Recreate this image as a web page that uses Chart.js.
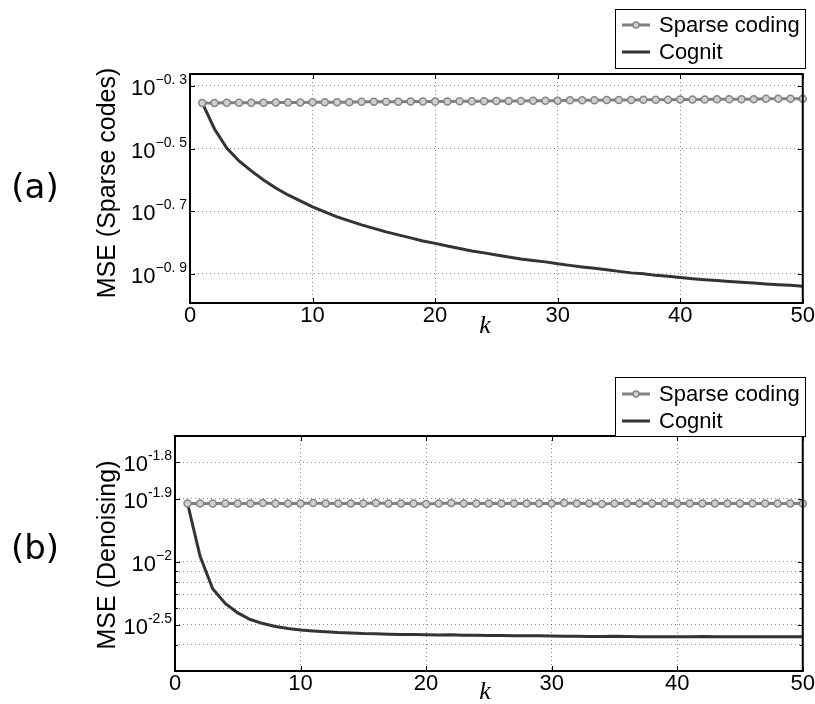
<!DOCTYPE html>
<html>
<head>
<meta charset="utf-8">
<script src="https://cdn.jsdelivr.net/npm/chart.js@4.4.1/dist/chart.umd.min.js"></script>
<style>
  html, body { margin: 0; padding: 0; background: #fff; }
  #wrap { position: relative; width: 815px; height: 704px; }
  .panel { position: absolute; left: 0; width: 815px; }
  #panelA { top: 0; height: 340px; }
  #panelB { top: 340px; height: 364px; }
</style>
</head>
<body>
<div id="wrap">
  <div class="panel" id="panelA"><canvas id="chartA" width="815" height="340"></canvas></div>
  <div class="panel" id="panelB"><canvas id="chartB" width="815" height="364"></canvas></div>
</div>
<script>
// iteration k
var kValues = [1, 2, 3, 4, 5, 6, 7, 8, 9, 10, 11, 12, 13, 14, 15, 16, 17, 18, 19, 20,
    21, 22, 23, 24, 25, 26, 27, 28, 29, 30, 31, 32, 33, 34, 35, 36, 37, 38, 39, 40,
    41, 42, 43, 44, 45, 46, 47, 48, 49, 50];

// (a) MSE sparse codes
var sparseCodesA = [0.442, 0.442, 0.443, 0.443, 0.443, 0.443, 0.444, 0.444, 0.444, 0.445,
    0.445, 0.445, 0.445, 0.446, 0.446, 0.446, 0.446, 0.447, 0.447, 0.447,
    0.447, 0.448, 0.448, 0.448, 0.449, 0.449, 0.449, 0.450, 0.450, 0.450,
    0.451, 0.451, 0.451, 0.452, 0.452, 0.452, 0.453, 0.453, 0.453, 0.454,
    0.454, 0.454, 0.455, 0.455, 0.455, 0.455, 0.456, 0.456, 0.456, 0.456];
var cognitA = [0.4424, 0.3654, 0.3178, 0.2889, 0.2685, 0.2513, 0.2369, 0.2250, 0.2154, 0.2061,
    0.1987, 0.1915, 0.1859, 0.1805, 0.1760, 0.1715, 0.1678, 0.1641, 0.1605, 0.1576,
    0.1547, 0.1519, 0.1491, 0.1470, 0.1448, 0.1427, 0.1406, 0.1391, 0.1376, 0.1356,
    0.1341, 0.1326, 0.1312, 0.1298, 0.1283, 0.1269, 0.1260, 0.1246, 0.1237, 0.1226,
    0.1216, 0.1207, 0.1199, 0.1191, 0.1184, 0.1177, 0.1170, 0.1164, 0.1158, 0.1151];

// (b) MSE denoising
var sparseCodesB = [0.0190, 0.0190, 0.0190, 0.0190, 0.0190, 0.0190, 0.0191, 0.0190, 0.0190, 0.0190,
    0.0191, 0.0190, 0.0190, 0.0190, 0.0190, 0.0191, 0.0190, 0.0190, 0.0190, 0.0189,
    0.0190, 0.0191, 0.0190, 0.0190, 0.0190, 0.0190, 0.0190, 0.0190, 0.0190, 0.0190,
    0.0191, 0.0190, 0.0190, 0.0189, 0.0190, 0.0190, 0.0190, 0.0190, 0.0190, 0.0190,
    0.0190, 0.0190, 0.0190, 0.0190, 0.0190, 0.0190, 0.0190, 0.0190, 0.0190, 0.0190];
var cognitB = [0.01901, 0.01061, 0.00743, 0.00632, 0.00569, 0.00529, 0.00506, 0.00490, 0.00479, 0.00471,
    0.00466, 0.00462, 0.00458, 0.00456, 0.00453, 0.00452, 0.00450, 0.00449, 0.00448, 0.00447,
    0.00446, 0.00447, 0.00445, 0.00445, 0.00444, 0.00444, 0.00443, 0.00442, 0.00442, 0.00441,
    0.00440, 0.00440, 0.00439, 0.00439, 0.00440, 0.00439, 0.00438, 0.00438, 0.00438, 0.00438,
    0.00438, 0.00439, 0.00438, 0.00437, 0.00438, 0.00437, 0.00437, 0.00438, 0.00437, 0.00437];

// y tick positions and the (odd) labels printed next to them
var tickValuesA = [0.5012, 0.3162, 0.1995, 0.1259];
var tickLabelsA = ['\u22120. 3', '\u22120. 5', '\u22120. 7', '\u22120. 9'];
var tickValuesB = [0.03, 0.02, 0.01, 0.009, 0.008, 0.007, 0.006, 0.005, 0.004];
var tickLabelsB = ['-1.8', '-1.9', '\u22122', '', '', '', '', '-2.5', ''];

var xTicks = [0, 10, 20, 30, 40, 50];

function points(values) {
    return kValues.map(function (k, i) { return { x: k, y: values[i] }; });
}

function makeDatasets(sparse, cognit) {
    return [{
        label: 'Sparse coding',
        data: points(sparse),
        borderColor: '#808080',
        borderWidth: 3,
        pointStyle: 'circle',
        pointRadius: 3.5,
        pointBorderWidth: 1.5,
        pointBorderColor: '#858585',
        pointBackgroundColor: '#cfcfcf',
        tension: 0,
        clip: false
    }, {
        label: 'Cognit',
        data: points(cognit),
        borderColor: '#333333',
        borderWidth: 3,
        pointRadius: 0,
        tension: 0,
        clip: false
    }];
}

// frame, inner ticks, y labels with exponents, legend box and titles
var decorPlugin = {
    id: 'decor',
    afterDraw: function (chart, args, opts) {
        var ctx = chart.ctx;
        var area = chart.chartArea;
        var xs = chart.scales.x;
        var ys = chart.scales.y;
        ctx.save();

        // inward tick marks
        ctx.strokeStyle = '#000';
        ctx.lineWidth = 1;
        ys.ticks.forEach(function (t, i) {
            var py = Math.round(ys.getPixelForValue(t.value)) + 0.5;
            var len = opts.yLabels[i] ? 5 : 3;
            ctx.beginPath();
            ctx.moveTo(area.left, py); ctx.lineTo(area.left + len, py);
            ctx.moveTo(area.right, py); ctx.lineTo(area.right - len, py);
            ctx.stroke();
        });
        xTicks.forEach(function (v) {
            var px = Math.round(xs.getPixelForValue(v)) + 0.5;
            ctx.beginPath();
            ctx.moveTo(px, area.bottom); ctx.lineTo(px, area.bottom - 5);
            ctx.moveTo(px, area.top); ctx.lineTo(px, area.top + 5);
            ctx.stroke();
        });

        // frame
        ctx.lineWidth = 2;
        ctx.strokeRect(area.left, area.top, area.right - area.left, area.bottom - area.top);

        // y labels 10^x
        ctx.fillStyle = '#000';
        ys.ticks.forEach(function (t, i) {
            var sup = opts.yLabels[i];
            if (!sup) return;
            var py = ys.getPixelForValue(t.value);
            var right = area.left - 3;
            ctx.font = '14px "Liberation Sans"';
            var w = ctx.measureText(sup).width;
            ctx.textBaseline = 'middle';
            ctx.textAlign = 'left';
            ctx.fillText(sup, right - w, py - 6);
            ctx.font = '22px "Liberation Sans"';
            ctx.textAlign = 'right';
            ctx.fillText('10', right - w, py + 3);
        });

        // legend
        var b = opts.legend;
        ctx.fillStyle = '#fff';
        ctx.fillRect(b.left, b.top, b.right - b.left, b.bottom - b.top);
        ctx.lineWidth = 1;
        ctx.strokeStyle = '#000';
        ctx.strokeRect(b.left + 0.5, b.top + 0.5, b.right - b.left, b.bottom - b.top);
        chart.data.datasets.forEach(function (ds, i) {
            var ry = b.rows[i];
            ctx.strokeStyle = ds.borderColor;
            ctx.lineWidth = ds.borderWidth;
            ctx.beginPath();
            ctx.moveTo(b.left + 7, ry); ctx.lineTo(b.left + 35, ry);
            ctx.stroke();
            if (ds.pointRadius) {
                ctx.beginPath();
                ctx.arc(b.left + 21, ry, ds.pointRadius - 0.5, 0, Math.PI * 2);
                ctx.fillStyle = ds.pointBackgroundColor;
                ctx.fill();
                ctx.lineWidth = ds.pointBorderWidth;
                ctx.strokeStyle = ds.pointBorderColor;
                ctx.stroke();
            }
            ctx.fillStyle = '#000';
            ctx.font = '22px "Liberation Sans"';
            ctx.textAlign = 'left';
            ctx.textBaseline = 'middle';
            ctx.fillText(ds.label, b.left + 44, ry + 1);
        });

        // k, y title, panel tag
        ctx.fillStyle = '#000';
        ctx.textAlign = 'center';
        ctx.textBaseline = 'middle';
        ctx.font = 'italic 26px "Liberation Serif"';
        ctx.fillText('k', opts.kPos[0], opts.kPos[1]);
        ctx.font = '34px "DejaVu Sans"';
        ctx.fillText(opts.tag, 35, opts.tagY);
        ctx.save();
        ctx.translate(108, opts.titleY);
        ctx.rotate(-Math.PI / 2);
        ctx.font = '25px "Liberation Sans"';
        ctx.fillText(opts.title, 0, 0);
        ctx.restore();

        ctx.restore();
    }
};

function makeOptions(cfg) {
    return {
        responsive: false,
        animation: false,
        devicePixelRatio: 1,
        layout: { padding: { left: 0, right: 12, top: cfg.top, bottom: 0 } },
        plugins: {
            legend: { display: false },
            tooltip: { enabled: false },
            decor: cfg.decor
        },
        scales: {
            x: {
                type: 'linear',
                min: 0,
                max: 50,
                afterBuildTicks: function (scale) {
                    scale.ticks = xTicks.map(function (v) { return { value: v }; });
                },
                afterFit: function (scale) { scale.height = cfg.xHeight; },
                ticks: {
                    color: '#000',
                    padding: 0,
                    maxRotation: 0,
                    autoSkip: false,
                    font: { family: 'Liberation Sans', size: 22 }
                },
                grid: { color: 'rgba(0,0,0,0.45)', lineWidth: 1, drawTicks: false },
                border: { display: false, dash: [1, 3] }
            },
            y: {
                type: 'logarithmic',
                min: cfg.yMin,
                max: cfg.yMax,
                afterBuildTicks: function (scale) {
                    scale.ticks = cfg.yTicks.map(function (v) { return { value: v }; });
                },
                afterFit: function (scale) { scale.width = cfg.yWidth; },
                ticks: { display: false },
                grid: { color: 'rgba(0,0,0,0.45)', lineWidth: 1, drawTicks: false },
                border: { display: false, dash: [1, 3] }
            }
        }
    };
}

document.addEventListener('DOMContentLoaded', function () {
    new Chart(document.getElementById('chartA').getContext('2d'), {
        type: 'line',
        data: { datasets: makeDatasets(sparseCodesA, cognitA) },
        options: makeOptions({
            top: 74, xHeight: 37, yWidth: 190,
            yMin: 0.1017, yMax: 0.5473, yTicks: tickValuesA,
            decor: {
                yLabels: tickLabelsA,
                legend: { left: 615, top: 9, right: 805, bottom: 68, rows: [25, 52] },
                kPos: [485, 326],
                tag: '(a)', tagY: 189,
                title: 'MSE (Sparse codes)', titleY: 183
            }
        }),
        plugins: [decorPlugin]
    });

    new Chart(document.getElementById('chartB').getContext('2d'), {
        type: 'line',
        data: { datasets: makeDatasets(sparseCodesB, cognitB) },
        options: makeOptions({
            top: 96, xHeight: 33, yWidth: 175,
            yMin: 0.003, yMax: 0.04, yTicks: tickValuesB,
            decor: {
                yLabels: tickLabelsB,
                legend: { left: 615, top: 37, right: 805, bottom: 96, rows: [54, 81] },
                kPos: [485, 352],
                tag: '(b)', tagY: 210,
                title: 'MSE (Denoising)', titleY: 215
            }
        }),
        plugins: [decorPlugin]
    });
});
</script>
</body>
</html>
